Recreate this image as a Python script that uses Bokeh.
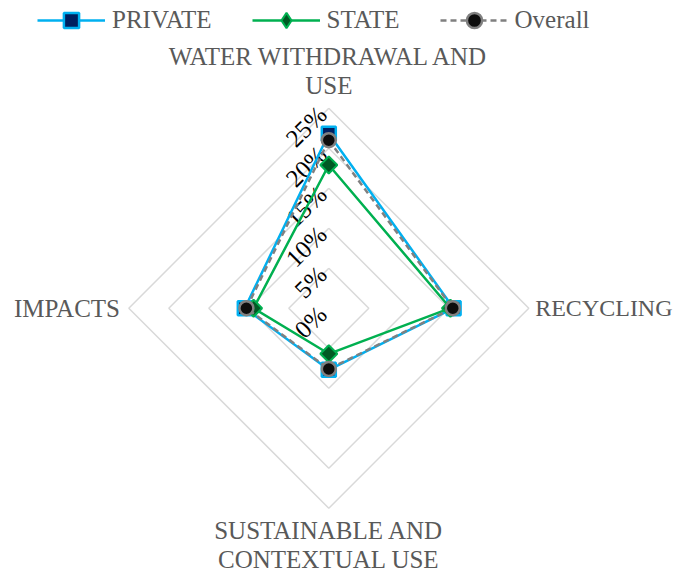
import numpy as np
from bokeh.plotting import figure
from bokeh.models import Range1d, Legend, LegendItem
from bokeh.core.properties import value
from bokeh.embed import file_html
from bokeh.resources import INLINE

# ---- data ----
categories = ["WATER WITHDRAWAL AND\nUSE", "RECYCLING", "SUSTAINABLE AND\nCONTEXTUAL USE", "IMPACTS"]
series_names = ["PRIVATE", "STATE", "Overall"]
private = [21.8, 15.6, 7.7, 10.5]
state = [17.9, 15.2, 5.7, 9.4]
overall = [21.0, 15.5, 7.6, 10.3]
ticks = [0, 5, 10, 15, 20, 25]
tick_labels = ["0%", "5%", "10%", "15%", "20%", "25%"]

# ---- layout ----
W, H = 675, 572
CX, CY = 328.3, 307.7      # centre in px from left / top
PX = 8.0                   # pixels per percent unit
FONT = "Liberation Serif"
GRAY_TXT = "#595959"
FS = "25px"

n = len(categories)
theta = np.deg2rad(90 - 360.0 * np.arange(n) / n)
cos_t, sin_t = np.cos(theta), np.sin(theta)

p = figure(width=W, height=H, output_backend="svg", toolbar_location=None,
           x_range=Range1d(-CX / PX, (W - CX) / PX),
           y_range=Range1d(-(H - CY) / PX, CY / PX),
           min_border=0, outline_line_color=None)
p.axis.visible = False
p.grid.visible = False
p.background_fill_color = "white"
p.border_fill_color = "white"

# grid diamonds
gx, gy = [], []
for t in ticks[1:]:
    gx.append(list(t * cos_t) + [t * cos_t[0]])
    gy.append(list(t * sin_t) + [t * sin_t[0]])
p.multi_line(gx, gy, line_color="#d9d9d9", line_width=1.5)

# tick labels
p.text(x=[-0.8] * len(ticks), y=[t - 0.25 for t in ticks], text=tick_labels,
       angle=np.pi / 4, text_align="right", text_baseline="middle",
       text_font=value(FONT), text_font_size=FS, text_color="black")

# category labels
r_lab = [26.1, 25.8, 26.1, 26.1]
for i, (c, s) in enumerate(zip(cos_t, sin_t)):
    if abs(c) < 1e-6:
        align, base = "center", ("bottom" if s > 0 else "top")
    else:
        align, base = ("left" if c > 0 else "right"), "middle"
    fs = "24px" if (c > 0.5) else FS
    p.text(x=[r_lab[i] * c], y=[r_lab[i] * s], text=[categories[i]],
           text_align=align, text_baseline=base,
           text_font=value(FONT), text_font_size=fs, text_color=GRAY_TXT,
           text_line_height=1.08)

def closed(vals):
    v = np.array(vals, dtype=float)
    xs = v * cos_t
    ys = v * sin_t
    return list(xs) + [xs[0]], list(ys) + [ys[0]], list(xs), list(ys)

styles = [
    dict(line_color="#00b0f0", line_dash="solid", marker="square", size=14, angle=0.0,
         fill="#002060", mline="#00b0f0", mw=2.5, legend_marker="square"),
    dict(line_color="#00b050", line_dash="solid", marker="square", size=12, angle=np.pi / 4,
         fill="#005a24", mline="#00b050", mw=2.0, legend_marker="diamond"),
    dict(line_color="#808080", line_dash="6 4", marker="circle", size=14, angle=0.0,
         fill="#0d0d0d", mline="#808080", mw=2.5, legend_marker="circle"),
]

items = []
for name, vals, st in zip(series_names, [private, state, overall], styles):
    lx, ly, mx, my = closed(vals)
    lr = p.line(lx, ly, line_color=st["line_color"], line_width=2.5,
                line_dash=st["line_dash"])
    sr = p.scatter(mx, my, marker=st["marker"], size=st["size"], angle=st["angle"],
                   fill_color=st["fill"], line_color=st["mline"],
                   line_width=st["mw"])
    if st["legend_marker"] != st["marker"]:
        # legend-only marker shape (hidden in the plot)
        sr = p.scatter(mx, my, marker=st["legend_marker"], size=st["size"],
                       fill_color=st["fill"], line_color=st["mline"],
                       line_width=st["mw"], visible=False)
    items.append(LegendItem(label=name, renderers=[lr, sr]))

legend = Legend(items=items, orientation="horizontal", location=(37, H - 39),
                glyph_width=68, glyph_height=38, label_standoff=7, spacing=40,
                padding=0, margin=0, border_line_color=None,
                background_fill_alpha=0, click_policy="none",
                label_text_font=FONT, label_text_font_size=FS,
                label_text_color=GRAY_TXT)
p.add_layout(legend, "center")

open("out.html", "w").write(file_html(p, INLINE))
